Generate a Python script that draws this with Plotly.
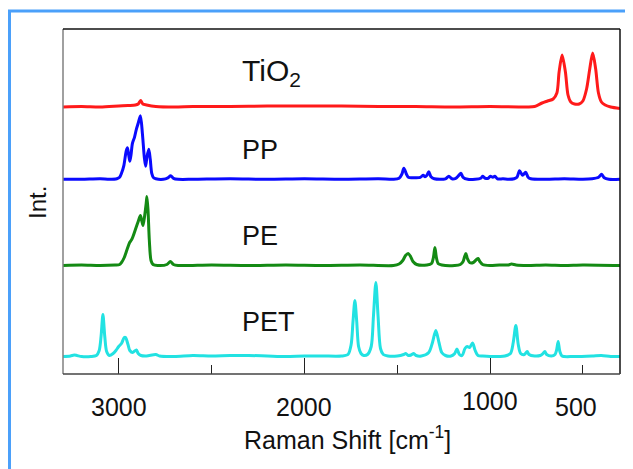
import plotly.graph_objects as go

# ---- data (Raman shift in cm-1, intensity in arbitrary units above each baseline) ----
tio2_shift = [3300, 3200, 3100, 3000, 2950, 2910, 2895, 2882, 2870, 2850, 2800, 2700, 2600, 2400,
              2200, 2000, 1800, 1600, 1400, 1200, 1000, 800, 760, 720, 690, 660, 640, 628, 612,
              594, 580, 565, 545, 520, 500, 480, 463, 447, 431, 416, 400, 380, 350, 300]
tio2_int = [0, 0.5, 0, 1, 1.5, 2, 3, 6.5, 3, 2, 0.5, 0, 0.5, 0.5,
            1, 1, 1, 0.5, 0.5, 0, 0.5, 0, 0.5, 4, 6, 8, 14, 35, 52,
            35, 12, 5, 3, 3, 6, 18, 38, 54, 38, 14, 5, 2, 0, -1.5]

pp_shift = [3300, 3200, 3100, 3050, 3010, 2995, 2985, 2972, 2960, 2953, 2946, 2940, 2934, 2926,
            2915, 2905, 2895, 2883, 2872, 2862, 2855, 2848, 2838, 2830, 2822, 2812, 2800, 2760,
            2735, 2720, 2705, 2680, 2600, 2400, 2200, 2000, 1800, 1600, 1520, 1490, 1475, 1464,
            1450, 1440, 1420, 1400, 1375, 1360, 1350, 1340, 1330, 1318, 1300, 1240, 1222, 1205,
            1185, 1168, 1157, 1145, 1120, 1080, 1050, 1040, 1025, 1010, 998, 985, 974, 960, 930,
            900, 870, 855, 841, 825, 808, 795, 780, 700, 600, 500, 450, 415, 399, 385, 360, 300]
pp_int = [0, 0, 0.5, 0, 0.5, 2, 6, 14, 28, 31.5, 24, 18, 24, 36,
          42, 50, 56, 63.5, 45, 22, 13, 22, 30, 20, 6, 1.5, 0.5, 0,
          1.5, 3.5, 1, 0, 0, 0.5, 0, 0.5, 0, 0.5, 0, 1, 5, 11,
          5, 2, 1.5, 1.5, 2, 4, 2.5, 4, 7.5, 2.5, 0.5, 0.5, 3, 0.5,
          1, 4, 6, 2, 0, 0, 1, 3, 1, 1, 3, 2, 3, 0.5, 0.5,
          0, 0.5, 2, 8.5, 4, 7, 2, 0.5, 0, 0.5, 0, 0.5, 2, 5, 1.5, 0, 0]

pe_shift = [3300, 3200, 3100, 3020, 2995, 2985, 2970, 2955, 2941, 2930, 2923, 2910, 2895, 2883,
            2876, 2869, 2860, 2852, 2848, 2842, 2835, 2826, 2815, 2790, 2740, 2722, 2705, 2680,
            2500, 2300, 2100, 1900, 1700, 1520, 1490, 1470, 1455, 1441, 1428, 1415, 1395, 1340,
            1315, 1305, 1297, 1289, 1280, 1260, 1190, 1160, 1145, 1137, 1130, 1122, 1110, 1090,
            1073, 1064, 1055, 1040, 1000, 950, 900, 884, 860, 800, 700, 600, 500, 300]
pe_int = [0, 0.5, 0, 0.5, 1, 3, 8, 16, 23, 26, 29, 36, 44, 50,
          45, 40, 50, 62, 69, 55, 25, 5, 1, 0, 1, 4, 1, 0,
          0.5, 0, 0.5, 0, 0.5, 0, 1.5, 5, 10, 12, 9, 4, 1, 0.5,
          2, 8, 18, 8, 2, 0.5, 0, 1, 4, 9, 12, 7, 3, 3,
          6, 7, 4, 1, 0, 0.5, 0.5, 1.5, 0.5, 0, 0.5, 0, 0.5, 0]

pet_shift = [3300, 3260, 3240, 3225, 3200, 3150, 3120, 3105, 3095, 3085, 3075, 3065, 3050, 3030,
             3015, 3000, 2985, 2970, 2963, 2950, 2940, 2925, 2905, 2895, 2880, 2850, 2800, 2780,
             2700, 2600, 2500, 2400, 2300, 2200, 2100, 2000, 1900, 1800, 1765, 1748, 1738, 1728,
             1718, 1708, 1695, 1680, 1660, 1640, 1628, 1615, 1603, 1590, 1575, 1550, 1500, 1465,
             1454, 1440, 1425, 1411, 1398, 1370, 1330, 1310, 1292, 1275, 1260, 1240, 1210, 1190,
             1178, 1165, 1150, 1135, 1123, 1110, 1094, 1080, 1065, 1040, 1000, 950, 920, 890,
             875, 861, 848, 835, 815, 800, 790, 760, 730, 715, 705, 695, 670, 650, 642, 633,
             624, 612, 550, 450, 400, 350, 300]
pet_int = [0, 0.5, 1.5, 1, 0, 0, 1, 6, 20, 42, 20, 5, 1, 3,
           6, 10, 13, 19, 19, 12, 6, 4, 6.5, 3, 1, 0.5, 2, 0.5,
           0, 1, 0.5, 1, 1, 0.5, 0, 0.5, 0.5, 0.5, 2, 12, 35, 56,
           35, 10, 3, 1, 2, 10, 40, 74, 40, 8, 2, 0.5, 0.5, 2,
           3, 1, 1.5, 3, 1, 0.5, 4, 14, 26, 14, 4, 1, 0.5, 3,
           7.5, 2, 1, 8, 10, 9, 13.5, 6, 1, 0.5, 0, 0, 0.5, 3,
           14, 31, 12, 3, 2, 5, 2, 0.5, 1, 3, 5, 2, 0.5, 2, 6, 15,
           5, 0.5, 0, 0.5, 1, 0, 0]

series_names = ["TiO<sub>2</sub>", "PP", "PE", "PET"]
series_shift = [tio2_shift, pp_shift, pe_shift, pet_shift]
series_int = [tio2_int, pp_int, pe_int, pet_int]
baselines = [267, 194.7, 108.5, 17.5]
colors = ["#ff1a1a", "#0a0aff", "#148a14", "#22e2e2"]

tick_vals = [3000, 2000, 1000, 500]
tick_text = ["3000", "2000", "1000", "500"]
major_ticks = [3000, 2000, 1000]
minor_ticks = [2500, 1500, 500]

FONT = "Arial, Liberation Sans, sans-serif"

fig = go.Figure()
for name, xs, ys, base, col in zip(series_names, series_shift, series_int, baselines, colors):
    fig.add_trace(go.Scatter(
        x=xs, y=[v + base for v in ys], mode="lines", name=name,
        line=dict(color=col, width=3, shape="spline", smoothing=0.8),
        showlegend=False, hoverinfo="skip"))

# page body adds an 8px offset; figure sized so the plot area lands at x 63-620, y 29-374
fig.update_layout(
    width=625, height=461,
    margin=dict(l=55, r=13, t=21, b=95),
    paper_bgcolor="white", plot_bgcolor="white",
    font=dict(family=FONT, color="#111111"),
    xaxis=dict(range=[3300, 300], showgrid=False, zeroline=False, showline=False,
               tickmode="array", tickvals=major_ticks, ticks="inside", ticklen=16,
               tickwidth=1, tickcolor="#222222", showticklabels=False,
               minor=dict(tickmode="array", tickvals=minor_ticks, ticks="inside",
                          ticklen=9, tickwidth=1, tickcolor="#222222", showgrid=False)),
    yaxis=dict(range=[0, 345], showgrid=False, zeroline=False, showline=False,
               showticklabels=False, ticks=""),
)

def px2paper_x(px):
    return (px - 63) / 557.0

def px2paper_y(py):
    return (374 - py) / 345.0

shapes = [
    dict(type="line", xref="paper", yref="paper", x0=0, x1=0, y0=0, y1=1,
         line=dict(color="#808080", width=1.5)),
    dict(type="line", xref="paper", yref="paper", x0=0, x1=1, y0=1, y1=1,
         line=dict(color="#111111", width=1.5)),
    dict(type="line", xref="paper", yref="paper", x0=1, x1=1, y0=0, y1=1,
         line=dict(color="#111111", width=1.5)),
    dict(type="line", xref="paper", yref="paper", x0=0, x1=1, y0=0, y1=0,
         line=dict(color="#444444", width=1.5)),
    dict(type="rect", xref="paper", yref="paper",
         x0=px2paper_x(9.5), x1=px2paper_x(660), y0=px2paper_y(11), y1=px2paper_y(500),
         line=dict(color="#4ba0fa", width=3), fillcolor="rgba(0,0,0,0)", layer="below"),
]
fig.update_layout(shapes=shapes)

annotations = []
label_y = [302, 224, 138, 52]
label_size = [30, 27, 27, 27]
for name, yv, fs in zip(series_names, label_y, label_size):
    annotations.append(dict(x=2345, y=yv, xref="x", yref="y", text=name, showarrow=False,
                            xanchor="left", yanchor="middle",
                            font=dict(size=fs, family=FONT, color="#111111")))
tick_xshift = {500: -7}
tick_yshift = {1000: 6}
for v, t in zip(tick_vals, tick_text):
    annotations.append(dict(x=v, y=px2paper_y(407), xref="x", yref="paper", text=t,
                            showarrow=False, xanchor="center", yanchor="middle",
                            xshift=tick_xshift.get(v, 0), yshift=tick_yshift.get(v, 0),
                            font=dict(size=25, family=FONT, color="#111111")))
annotations.append(dict(x=px2paper_x(347), y=px2paper_y(438), xref="paper", yref="paper",
                        text="Raman Shift [cm<sup>-1</sup>]", showarrow=False,
                        xanchor="center", yanchor="middle",
                        font=dict(size=25, family=FONT, color="#111111")))
annotations.append(dict(x=px2paper_x(37), y=px2paper_y(203), xref="paper", yref="paper",
                        text="Int.", showarrow=False, textangle=-90,
                        xanchor="center", yanchor="middle",
                        font=dict(size=24, family=FONT, color="#111111")))
fig.update_layout(annotations=annotations)

fig.write_html("out.html")
